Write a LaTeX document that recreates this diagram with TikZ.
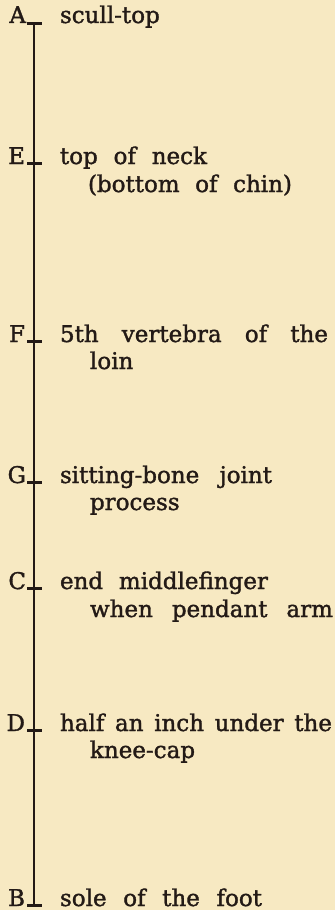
\documentclass[tikz,border=0pt]{standalone}
\usepackage{fontspec}
\setmainfont{DejaVu Serif}
\newfontfamily\platefont[FakeBold=1.5]{DejaVu Serif}
\definecolor{paper}{HTML}{F7E9C2}
\definecolor{ink}{HTML}{231A16}
\begin{document}
\begin{tikzpicture}[x=1pt,y=-1pt,
  every node/.style={inner sep=0pt, outer sep=0pt},
  bigfont/.style={font=\platefont\fontsize{23}{26}\selectfont, text=ink},
  letter/.style={bigfont, anchor=base east},
  txt/.style={bigfont, anchor=base west},
  stem/.style={draw=ink, line width=2.7pt},
  tickmark/.style={draw=ink, line width=3pt}]
\fill[paper] (0,0) rectangle (335,910);
% points on the scale
\coordinate (pA) at (34,23);
\coordinate (pE) at (34,163);
\coordinate (pF) at (34,341);
\coordinate (pG) at (34,482);
\coordinate (pC) at (34,588);
\coordinate (pD) at (34,730);
\coordinate (pB) at (34,905);
\draw[stem] (pA) -- (pB);
\foreach \p in {pA,pE,pF,pG,pC,pD,pB}{
  \draw[tickmark] ([xshift=-7pt]\p) -- ([xshift=8pt]\p);
}
% letters
\node[letter] (lA) at (26,23) {A};
\node[letter] (lE) at (25,164) {E};
\node[letter] (lF) at (25,342) {F};
\node[letter] (lG) at (26,483) {G};
\node[letter] (lC) at (26,589) {C};
\node[letter] (lD) at (25,731) {D};
\node[letter] (lB) at (25,906) {B};
% descriptions
\node[txt] (tA) at (60,23) {scull-top};
\node[txt] (tE1) at (60,164) {\makebox[147pt][s]{top of neck}};
\node[txt] (tE2) at (88,192) {\makebox[204pt][s]{(bottom of chin)}};
\node[txt] (tF1) at (60,342) {\makebox[268pt][s]{5th vertebra of the}};
\node[txt] (tF2) at (90,369) {loin};
\node[txt] (tG1) at (60,483) {\makebox[212pt][s]{sitting-bone joint}};
\node[txt] (tG2) at (90,510) {process};
\node[txt] (tC1) at (60,589) {\makebox[208pt][s]{end middlefinger}};
\node[txt] (tC2) at (90,617) {\makebox[243pt][s]{when pendant arm}};
\node[txt] (tD1) at (60,731) {\makebox[272pt][s]{half an inch under the}};
\node[txt] (tD2) at (90,758) {knee-cap};
\node[txt] (tB) at (60,906) {\makebox[202pt][s]{sole of the foot}};
\end{tikzpicture}
\end{document}
